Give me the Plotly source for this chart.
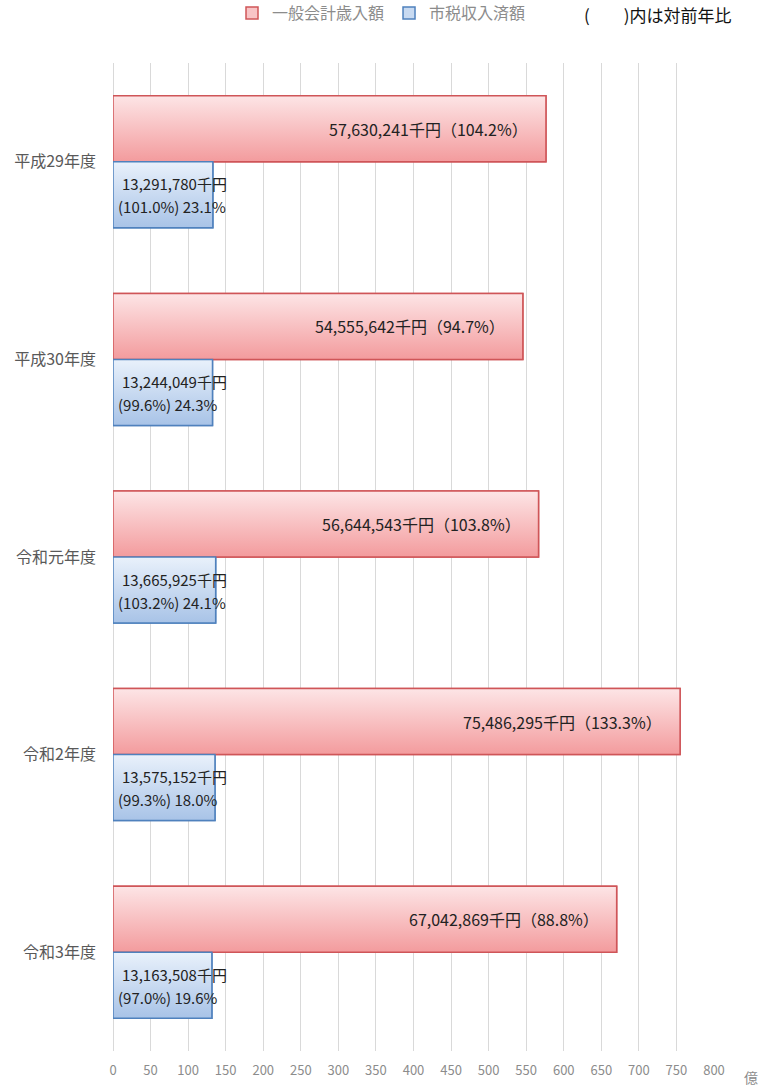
import plotly.graph_objects as go

categories = ["平成29年度", "平成30年度", "令和元年度", "令和2年度", "令和3年度"]
general = [57630241, 54555642, 56644543, 75486295, 67042869]          # 千円
general_ratio = ["104.2%", "94.7%", "103.8%", "133.3%", "88.8%"]
tax = [13291780, 13244049, 13665925, 13575152, 13163508]              # 千円
tax_ratio = ["101.0%", "99.6%", "103.2%", "99.3%", "97.0%"]
tax_share = ["23.1%", "24.3%", "24.1%", "18.0%", "19.6%"]
x_ticks = list(range(0, 801, 50))

FONT = "Noto Sans CJK JP"
gen_oku = [v / 100000 for v in general]
tax_oku = [v / 100000 for v in tax]

RED_LINE, BLUE_LINE = "#cf5558", "#4f81bd"
RED_TOP, RED_BOT = "#fde5e6", "#f39b9d"
BLUE_TOP, BLUE_BOT = "#e9f1fb", "#a8c3e7"

BARGAP = 0.332
half = (1 - BARGAP) / 2   # width of each bar in category units

fig = go.Figure()
fig.add_trace(go.Bar(
    y=categories, x=gen_oku, orientation="h", name="一般会計歳入額",
    marker=dict(color="#f8c4c6", line=dict(color=RED_LINE, width=1.5)),
    hoverinfo="skip",
))
fig.add_trace(go.Bar(
    y=categories, x=tax_oku, orientation="h", name="市税収入済額",
    marker=dict(color="#c8daf1", line=dict(color=BLUE_LINE, width=1.5)),
    hoverinfo="skip",
))

# gradient overlays drawn on a linear twin y-axis that mirrors the category positions
for i in range(len(categories)):
    for val, top, bot, ctop, cbot, lc in (
        (gen_oku[i], i - half, i, RED_TOP, RED_BOT, RED_LINE),
        (tax_oku[i], i, i + half, BLUE_TOP, BLUE_BOT, BLUE_LINE),
    ):
        fig.add_trace(go.Scatter(
            x=[0, val, val, 0, 0], y=[top, top, bot, bot, top], yaxis="y2",
            mode="lines", fill="toself",
            fillgradient=dict(type="vertical", start=top, stop=bot,
                              colorscale=[[0, ctop], [1, cbot]]),
            line=dict(color=lc, width=1.5),
            showlegend=False, hoverinfo="skip",
        ))

annotations = []
for i in range(len(categories)):
    annotations.append(dict(
        x=gen_oku[i], y=i - half / 2, xref="x", yref="y2",
        text=f"{general[i]:,}千円（{general_ratio[i]}）",
        showarrow=False, xanchor="right", xshift=-16,
        font=dict(family=FONT, size=16, color="#222222"),
    ))
    annotations.append(dict(
        x=0, y=i + half / 2, xref="x", yref="y2",
        text=f"{tax[i]:,}千円",
        showarrow=False, xanchor="left", xshift=7, yshift=11,
        font=dict(family=FONT, size=15, color="#222222"),
    ))
    annotations.append(dict(
        x=0, y=i + half / 2, xref="x", yref="y2",
        text=f"({tax_ratio[i]}) {tax_share[i]}",
        showarrow=False, xanchor="left", xshift=3, yshift=-12,
        font=dict(family=FONT, size=15, color="#222222"),
    ))

W, H = 760, 1087
L, T = 113, 63
R = W - 714
B = H - 1051
pw, ph = W - L - R, H - T - B


def px_x(x):
    return (x - L) / pw


def px_y(y):
    return 1 - (y - T) / ph


annotations.append(dict(
    x=px_x(582), y=px_y(14), xref="paper", yref="paper", text="(　　)内は対前年比",
    showarrow=False, xanchor="left", yanchor="middle",
    font=dict(family=FONT, size=17, color="#111111"),
))
annotations.append(dict(
    x=px_x(751), y=px_y(1077), xref="paper", yref="paper", text="億",
    showarrow=False, xanchor="center", yanchor="middle",
    font=dict(family=FONT, size=14, color="#8c8c8c"),
))

fig.update_layout(
    width=W, height=H,
    margin=dict(l=L, r=R, t=T, b=B, autoexpand=False),
    paper_bgcolor="white", plot_bgcolor="white",
    barmode="group", bargap=BARGAP, bargroupgap=0,
    font=dict(family=FONT),
    showlegend=True,
    legend=dict(
        orientation="h", x=px_x(232), xanchor="left",
        y=px_y(13), yanchor="middle",
        font=dict(family=FONT, size=16, color="#8c8c8c"),
        traceorder="normal", itemwidth=30,
    ),
    annotations=annotations,
    xaxis=dict(
        range=[0, 800], tickvals=x_ticks, ticktext=[str(t) for t in x_ticks],
        showgrid=True, gridcolor="#d9d9d9", gridwidth=1,
        zeroline=True, zerolinecolor="#d9d9d9", zerolinewidth=1,
        showline=False, ticks="", ticklabelstandoff=10,
        tickfont=dict(family=FONT, size=13, color="#8c8c8c"),
        fixedrange=True, automargin=False,
    ),
    yaxis=dict(
        autorange="reversed", showgrid=False, showline=False, ticks="",
        tickfont=dict(family=FONT, size=16, color="#595959"),
        ticklabelstandoff=16, fixedrange=True, automargin=False,
    ),
    yaxis2=dict(
        overlaying="y", range=[len(categories) - 0.5, -0.5],
        visible=False, showgrid=False, zeroline=False, fixedrange=True,
    ),
)

fig.write_html(
    "out.html",
    config={"displayModeBar": False},
    post_script="document.body.style.margin='0';document.body.style.overflow='hidden';",
)
